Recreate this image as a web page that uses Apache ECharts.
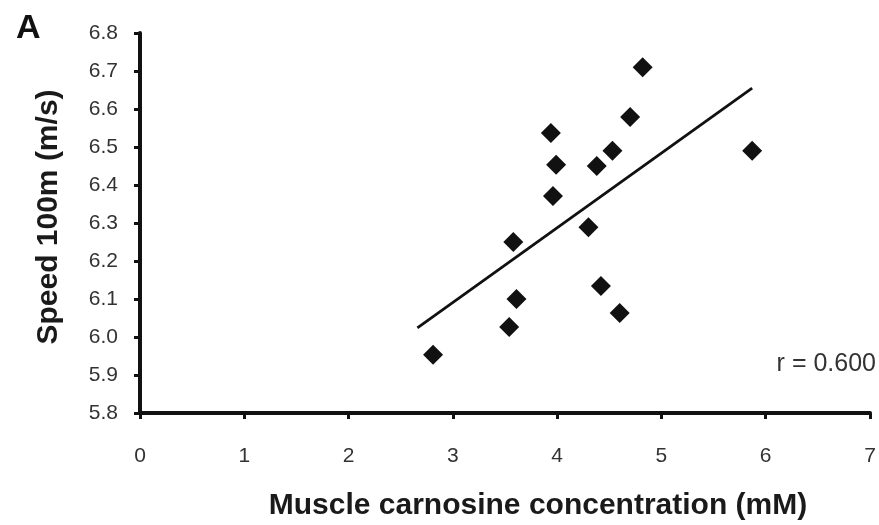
<!DOCTYPE html>
<html><head><meta charset="utf-8">
<script src="https://cdn.jsdelivr.net/npm/echarts@6/dist/echarts.min.js"></script>
<style>html,body{margin:0;padding:0;background:#fff}#c{width:879px;height:525px}</style>
</head><body><div id="c"></div>
<script>
var carnosine = [2.81, 3.54, 3.58, 3.61, 3.94, 3.99, 3.96, 4.30, 4.38, 4.42, 4.53, 4.60, 4.70, 4.82, 5.87];
var speed     = [5.953, 6.026, 6.25, 6.10, 6.537, 6.453, 6.371, 6.289, 6.45, 6.134, 6.49, 6.063, 6.579, 6.71, 6.49];
var fitX = [2.66, 5.87];
var fitY = [6.024, 6.655];
var xTicks = [0,1,2,3,4,5,6,7];
var yTicks = ['5.8','5.9','6.0','6.1','6.2','6.3','6.4','6.5','6.6','6.7','6.8'];
var xTitle = 'Muscle carnosine concentration (mM)';
var yTitle = 'Speed 100m (m/s)';
var panelLabel = 'A';
var rText = 'r = 0.600';

var FONT = '"Liberation Sans", Arial, sans-serif';
var pts = carnosine.map(function(x,i){return [x, speed[i]];});
var fit = fitX.map(function(x,i){return [x, fitY[i]];});
var chart = echarts.init(document.getElementById('c'));
chart.setOption({
  animation:false,
  grid:{left:140,right:9,top:33,bottom:112,containLabel:false},
  graphic:[
    {type:'text',x:16,y:29,style:{text:panelLabel,font:'bold 34px '+FONT,fill:'#111',align:'left',verticalAlign:'middle'}},
    {type:'text',x:876,y:364,style:{text:rText,font:'25px '+FONT,fill:'#333',align:'right',verticalAlign:'middle'}},
    {type:'text',x:538,y:506,style:{text:xTitle,font:'bold 30px '+FONT,fill:'#1a1a1a',align:'center',verticalAlign:'middle'}},
    {type:'text',x:49,y:217,rotation:Math.PI/2,style:{text:yTitle,font:'bold 30px '+FONT,fill:'#1a1a1a',align:'center',verticalAlign:'middle'}}
  ],
  xAxis:{type:'value',min:0,max:7,interval:1,
    axisLine:{lineStyle:{color:'#111',width:4}},
    axisTick:{show:true,length:6,lineStyle:{color:'#111',width:3}},
    axisLabel:{margin:33,fontFamily:FONT,fontSize:21,color:'#333',
      formatter:function(v){return xTicks.indexOf(v)>=0?String(v):'';}},
    splitLine:{show:false}},
  yAxis:{type:'value',min:5.8,max:6.8,interval:0.1,
    axisLine:{show:true,lineStyle:{color:'#111',width:4}},
    axisTick:{show:true,length:6,lineStyle:{color:'#111',width:3}},
    axisLabel:{margin:22,fontFamily:FONT,fontSize:21,color:'#333',
      formatter:function(v){var i=Math.round((v-5.8)*10);return yTicks[i]||'';}},
    splitLine:{show:false}},
  series:[
    {type:'line',data:fit,symbol:'none',lineStyle:{color:'#111',width:2.8},z:2},
    {type:'scatter',data:pts,symbol:'diamond',symbolSize:20,itemStyle:{color:'#111',opacity:1},z:3}
  ]
});
</script></body></html>
